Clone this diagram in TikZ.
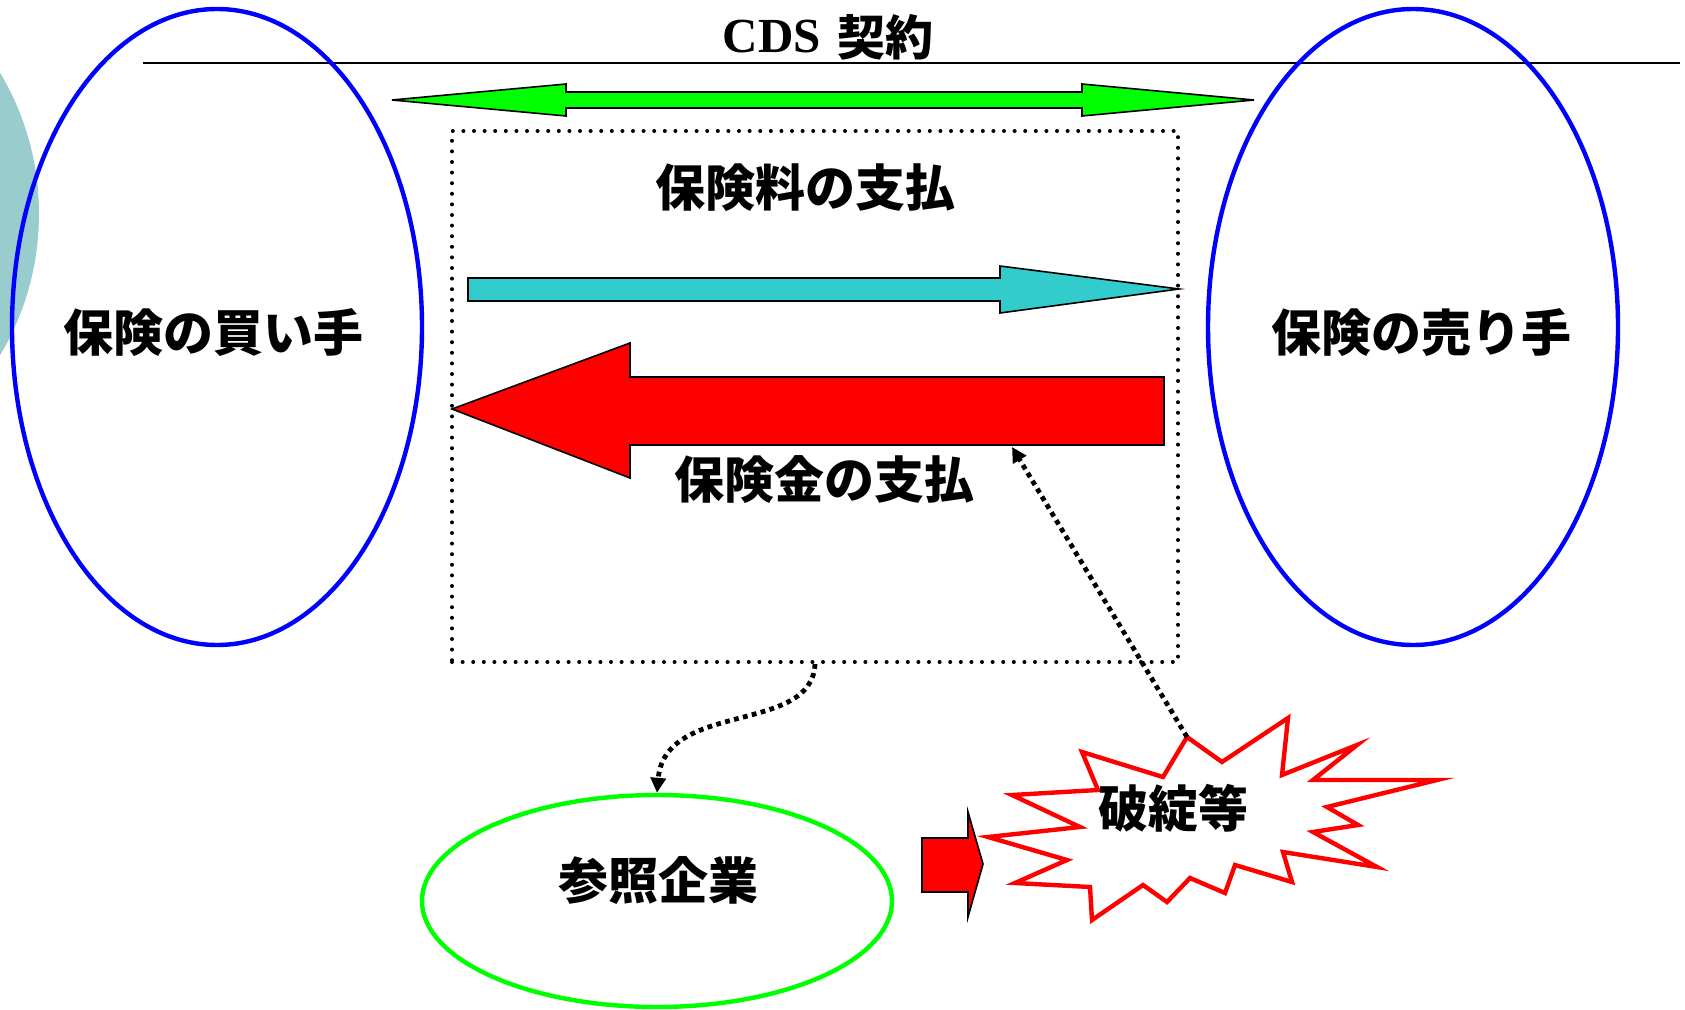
\documentclass[tikz,border=0pt]{standalone}
\usepackage{fontspec}
\newfontfamily\jp{Noto Sans CJK JP}
\newfontfamily\tms{Liberation Serif}
\usetikzlibrary{shapes.geometric,arrows.meta}
\definecolor{tealbg}{HTML}{99CCCC}
\definecolor{tealarrow}{HTML}{33CCCC}
\definecolor{brightgreen}{HTML}{00FF00}
\definecolor{pureblue}{HTML}{0000FF}
\definecolor{purered}{HTML}{FF0000}
\begin{document}
\begin{tikzpicture}[x=0.5pt,y=-0.5pt,
  partyell/.style={draw=pureblue,line width=2.2pt,ellipse,minimum width=205pt,minimum height=318pt,inner sep=0pt},
  refell/.style={draw=brightgreen,line width=2.2pt,ellipse,minimum width=235pt,minimum height=106pt,inner sep=0pt},
  lbl/.style={inner sep=0pt,font=\jp\bfseries\fontsize{25pt}{30pt}\selectfont},
  dotbox/.style={draw,line width=2pt,line cap=round,dash pattern=on 0pt off 5.3pt,minimum width=363pt,minimum height=265.5pt,inner sep=0pt},
  dotconn/.style={draw,line width=2.4pt,dash pattern=on 2.4pt off 2.2pt,-{Triangle[length=7.5pt,width=7.5pt]}},
  blockarrow/.style={draw=black,line width=0.8pt,line join=miter},
]
\useasboundingbox (0,0) rectangle (1685,1010);
% background decoration
\fill[tealbg] (-236,214) circle[radius=275];
% contract line
\draw[line width=1pt] (143,63) -- (1680,63);
\node[anchor=base,inner sep=0pt] (cds) at (828,53)
  {\tms\bfseries\fontsize{24.5pt}{30pt}\selectfont CDS\hspace{8pt}\raisebox{-1.5pt}{\jp\bfseries\fontsize{24pt}{30pt}\selectfont 契約}};
% parties
\node[partyell] (buyer) at (217,327) {};
\node[partyell] (seller) at (1413,327) {};
\node[lbl] (buyertxt) at (213,333) {保険の買い手};
\node[lbl] (sellertxt) at (1421,333) {保険の売り手};
% green double arrow
\draw[blockarrow,fill=brightgreen] (392,100) -- (566,84) -- (566,92) -- (1082,92) -- (1082,84) -- (1254,100)
  -- (1082,116) -- (1082,108) -- (566,108) -- (566,116) -- cycle;
% dotted box
\node[dotbox] (box) at (815,396.5) {};
\node[lbl] (premium) at (805,188) {保険料の支払};
% teal arrow
\draw[blockarrow,fill=tealarrow] (468,278) -- (1000,278) -- (1000,266) -- (1179,289) -- (1000,313) -- (1000,301) -- (468,301) -- cycle;
% red payout arrow
\draw[blockarrow,fill=purered] (452,409) -- (630,343) -- (630,377) -- (1164,377) -- (1164,445) -- (630,445) -- (630,478) -- cycle;
\coordinate (payoutEdge) at (1012,447);
\node[lbl] (payout) at (824,480) {保険金の支払};
% reference entity
\node[refell] (ref) at (657,901) {};
\node[lbl] (reftxt) at (658,880) {参照企業};
% small red arrow
\draw[blockarrow,fill=purered] (922,838) -- (968,838) -- (968,812) -- (983,864) -- (968,917) -- (968,892) -- (922,892) -- cycle;
% burst
\draw[draw=purered,fill=white,line width=2.2pt,line join=miter]
  (1187,737) -- (1222,762) -- (1288,718) -- (1282,775) -- (1357,745) -- (1313,780) -- (1437,780)
  -- (1327,807) -- (1358,825) -- (1313,832) -- (1377,867) -- (1283,852) -- (1292,882) -- (1235,865)
  -- (1225,893) -- (1190,878) -- (1167,902) -- (1143,885) -- (1092,920) -- (1090,887) -- (1015,883)
  -- (1067,860) -- (988,837) -- (1080,827) -- (1012,795) -- (1098,790) -- (1082,752) -- (1163,777) -- cycle;
\coordinate (burstTop) at (1187,737);
\node[lbl] (bursttxt) at (1173,808) {破綻等};
% connectors
\draw[dotconn] (box.south) .. controls (812,735) and (665,700) .. (ref.north);
\draw[dotconn] (burstTop) -- (payoutEdge);
\end{tikzpicture}
\end{document}
